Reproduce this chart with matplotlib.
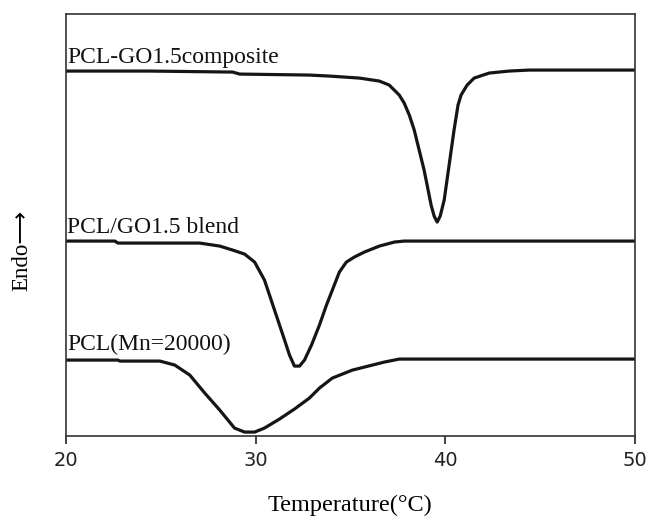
import matplotlib
matplotlib.use('Agg')
import matplotlib.pyplot as plt

# DSC traces (heat flow in arbitrary units, stacked)
t_comp = [20.0, 24.42, 28.79, 29.16, 32.84, 33.89, 35.47, 36.53, 37.05, 37.58, 37.84,
          38.11, 38.37, 38.63, 38.89, 39.05, 39.26, 39.42, 39.58, 39.74, 39.95, 40.21,
          40.47, 40.68, 40.84, 41.16, 41.53, 42.32, 43.37, 44.42, 50.0]
h_comp = [365, 365, 364, 362, 361, 360, 358, 355, 351, 341, 333,
          321, 306, 286, 266, 251, 231, 220, 214, 220, 236, 271,
          306, 331, 341, 351, 358, 363, 365, 366, 366]

t_blend = [20.0, 22.58, 22.74, 27.05, 28.11, 28.79, 29.42, 29.95, 30.47, 31.0, 31.53,
           31.79, 32.05, 32.32, 32.58, 32.95, 33.37, 33.74, 34.05, 34.42, 34.79, 35.21,
           35.74, 36.53, 37.32, 37.84, 50.0]
h_blend = [195, 195, 193, 193, 190, 186, 182, 174, 156, 126, 96,
           81, 70, 70, 76, 91, 111, 131, 146, 164, 174, 179,
           184, 190, 194, 195, 195]

t_pcl = [20.0, 22.74, 22.84, 24.95, 25.74, 26.53, 27.32, 28.11, 28.89, 29.42, 29.95,
         30.47, 31.26, 32.05, 32.84, 33.37, 34.05, 35.11, 36.16, 36.79, 37.58, 50.0]
h_pcl = [76, 76, 75, 75, 71, 61, 43, 26, 8, 4, 4,
         8, 17, 27, 38, 48, 58, 66, 71, 74, 77, 77]

labels = ['PCL-GO1.5composite', 'PCL/GO1.5 blend', 'PCL(Mn=20000)']
label_h = [373, 203, 86]
xticks = [20, 30, 40, 50]

fig = plt.figure(figsize=(6.47, 5.21), dpi=100)
ax = fig.add_axes([0.102, 0.163, 0.879, 0.81])

for t, h in [(t_comp, h_comp), (t_blend, h_blend), (t_pcl, h_pcl)]:
    ax.plot(t, h, color='#151515', lw=2.3, solid_joinstyle='round')

for lab, yh in zip(labels, label_h):
    ax.text(20.05, yh, lab, family='Liberation Serif', fontsize=17,
            va='baseline', ha='left', color='#111111')

ax.set_xlim(20, 50)
ax.set_ylim(0, 422)
ax.set_xticks(xticks)
ax.set_xticklabels([str(v) for v in xticks], fontsize=14, family='DejaVu Sans')
ax.set_yticks([])
ax.tick_params(axis='x', direction='out', length=6, width=1.2, pad=5, colors='#222222')
for s in ax.spines.values():
    s.set_linewidth(1.2)
    s.set_color('#333333')

fig.text(0.541, 1 - 505 / 521, 'Temperature(°C)', family='Liberation Serif',
         fontsize=17.5, ha='center', va='center')
fig.text(22 / 647, 1 - 250 / 521, 'Endo⟶', family=['Liberation Serif', 'DejaVu Sans'],
         fontsize=16.5, rotation=90, ha='center', va='center')

fig.savefig('out.png', dpi=100)
